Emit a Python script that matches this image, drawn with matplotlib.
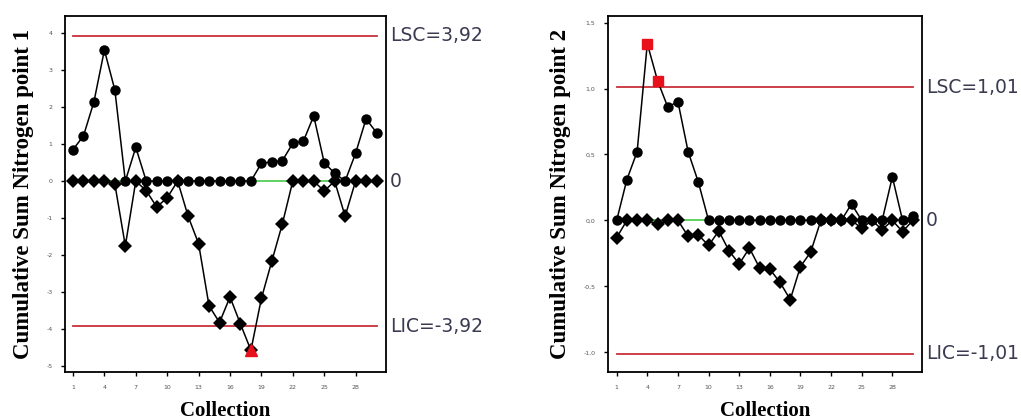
import numpy as np
import matplotlib.pyplot as plt
from matplotlib.transforms import blended_transform_factory

collection = np.arange(1, 31)

# point 1: upper / lower cumulative sums
cplus_1 = [0.85, 1.22, 2.14, 3.54, 2.46, 0.0, 0.91, 0.0, 0.0, 0.0,
           0.0, 0.0, 0.0, 0.0, 0.0, 0.0, 0.0, 0.0, 0.48, 0.52,
           0.55, 1.02, 1.07, 1.76, 0.50, 0.21, 0.0, 0.75, 1.68, 1.31]
cminus_1 = [0.0, 0.0, 0.0, 0.0, -0.08, -1.75, 0.0, -0.26, -0.70, -0.45,
            0.0, -0.95, -1.69, -3.37, -3.82, -3.13, -3.86, -4.57, -3.17, -2.16,
            -1.16, 0.0, 0.0, 0.0, -0.27, 0.0, -0.95, 0.0, 0.0, 0.0]
limit_1 = 3.92

# point 2
cplus_2 = [0.0, 0.31, 0.52, 1.34, 1.06, 0.86, 0.90, 0.52, 0.29, 0.0,
           0.0, 0.0, 0.0, 0.0, 0.0, 0.0, 0.0, 0.0, 0.0, 0.0,
           0.0, 0.0, 0.0, 0.125, 0.0, 0.0, 0.0, 0.33, 0.0, 0.03]
cminus_2 = [-0.13, 0.0, 0.0, 0.0, -0.03, 0.0, 0.0, -0.12, -0.11, -0.19,
            -0.08, -0.23, -0.33, -0.21, -0.36, -0.37, -0.47, -0.60, -0.35, -0.24,
            0.0, 0.0, 0.0, 0.0, -0.06, 0.0, -0.07, 0.0, -0.085, 0.0]
limit_2 = 1.01

yticks_1 = [-5, -4, -3, -2, -1, 0, 1, 2, 3, 4]
ytick_labels_1 = ['-5', '-4', '-3', '-2', '-1', '0', '1', '2', '3', '4']
yticks_2 = [-1.0, -0.5, 0.0, 0.5, 1.0, 1.5]
ytick_labels_2 = ['-1,0', '-0,5', '0,0', '0,5', '1,0', '1,5']
xticks = [1, 4, 7, 10, 13, 16, 19, 22, 25, 28]


def fmt(v):
    return ('%g' % v).replace('.', ',')


def cusum_panel(ax, cplus, cminus, limit, ylim, yticks, yticklabels, ylabel, xlim):
    x = collection
    cplus = np.array(cplus)
    cminus = np.array(cminus)

    # center line and control limits
    ax.plot([x[0], x[-1]], [0, 0], color='#44cc44', lw=1.2, zorder=1)
    ax.plot([x[0], x[-1]], [limit, limit], color='#c8303a', lw=1.3, zorder=1)
    ax.plot([x[0], x[-1]], [-limit, -limit], color='#c8303a', lw=1.3, zorder=1)

    ax.plot(x, cminus, color='black', lw=1.1, marker='D', ms=7,
            markeredgewidth=0, zorder=3)
    ax.plot(x, cplus, color='black', lw=1.1, marker='o', ms=7.5,
            markeredgewidth=0, zorder=3)

    # out of control points
    hi = cplus > limit
    lo = cminus < -limit
    ax.plot(x[hi], cplus[hi], ls='none', marker='s', ms=6.5, color='#e8101a', zorder=4)
    ax.plot(x[lo], cminus[lo], ls='none', marker='^', ms=8.5, color='#e8101a', zorder=4)

    tr = blended_transform_factory(ax.transAxes, ax.transData)
    txt = dict(transform=tr, fontsize=13.5, color='#3a3a50', va='center',
               ha='left', family='DejaVu Sans', clip_on=False)
    ax.text(1.012, limit, 'LSC=' + fmt(limit), **txt)
    ax.text(1.012, 0, '0', **txt)
    ax.text(1.012, -limit, 'LIC=-' + fmt(limit), **txt)

    ax.set_xlim(*xlim)
    ax.set_ylim(*ylim)
    ax.set_xticks(xticks)
    ax.set_xticklabels([str(t) for t in xticks], fontsize=4.5, color='#555555')
    ax.set_yticks(yticks)
    ax.set_yticklabels(yticklabels, fontsize=4.5, color='#555555')
    ax.tick_params(length=3, width=1, pad=6)
    for s in ax.spines.values():
        s.set_linewidth(1.3)

    ax.set_ylabel(ylabel, family='Liberation Serif', fontweight='bold',
                  fontsize=16.5, labelpad=9)
    ax.set_xlabel('Collection', family='Liberation Serif', fontweight='bold',
                  fontsize=15, labelpad=8)


def main():
    fig = plt.figure(figsize=(10.21, 4.2), dpi=100)
    ax1 = fig.add_axes([0.0637, 0.114, 0.3143, 0.848])
    ax2 = fig.add_axes([0.5955, 0.114, 0.3075, 0.848])

    cusum_panel(ax1, cplus_1, cminus_1, limit_1, (-5.16, 4.46),
                yticks_1, ytick_labels_1, 'Cumulative Sum Nitrogen point 1',
                (0.24, 30.9))
    cusum_panel(ax2, cplus_2, cminus_2, limit_2, (-1.15, 1.55),
                yticks_2, ytick_labels_2, 'Cumulative Sum Nitrogen point 2',
                (0.15, 30.9))

    fig.savefig('out.png', dpi=100)


if __name__ == '__main__':
    main()
